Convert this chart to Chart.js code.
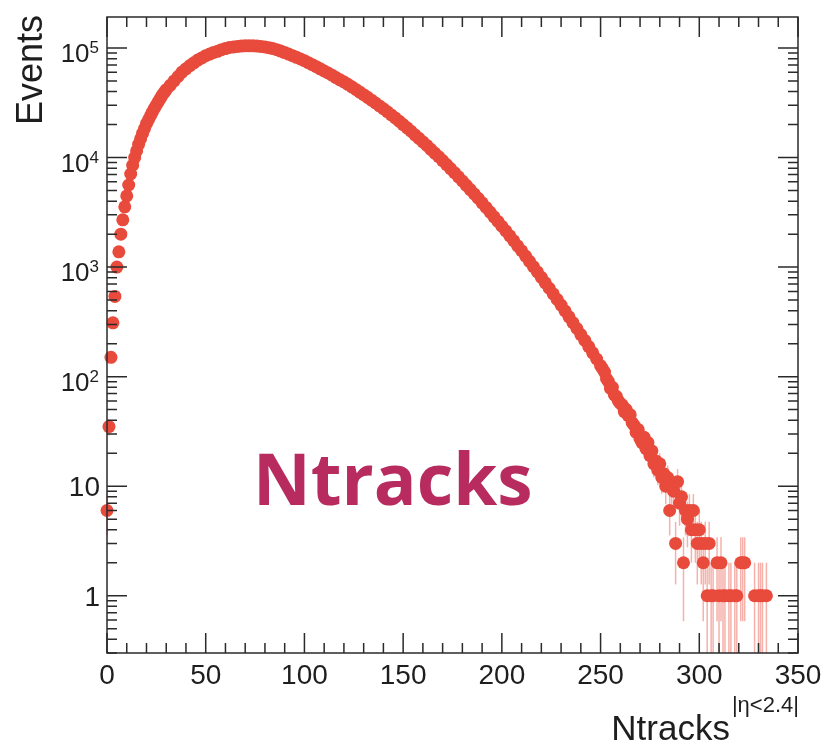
<!DOCTYPE html>
<html>
<head>
<meta charset="utf-8">
<script src="https://cdn.jsdelivr.net/npm/chart.js@4.4.0/dist/chart.umd.min.js"></script>
<style>
    html, body { margin: 0; padding: 0; background: #fff; }
    #wrap { width: 823px; height: 748px; position: relative; }
</style>
</head>
<body>
<div id="wrap"><canvas id="myChart"></canvas></div>
<script>
// Ntracks bin centres and event counts
let ntracks = [
    0, 1, 2, 3, 4, 5, 6, 7, 8, 9, 10, 11, 12, 13, 14, 15, 16, 17, 18, 19, 20,
    21, 22, 23, 24, 25, 26, 27, 28, 29, 30, 32, 34, 36, 38, 40, 42, 44, 46, 48, 50,
    52, 54, 56, 58, 60, 62, 64, 66, 68, 70, 72, 74, 76, 78, 80, 82, 84, 86, 88, 90,
    92, 94, 96, 98, 100, 102, 104, 106, 108, 110, 112, 114, 116, 118, 120, 122, 124, 126, 128, 130,
    132, 134, 136, 138, 140, 142, 144, 146, 148, 150, 152, 154, 156, 158, 160, 162, 164, 166, 168, 170,
    172, 174, 176, 178, 180, 182, 184, 186, 188, 190, 192, 194, 196, 198, 200, 202, 204, 206, 208, 210,
    212, 214, 216, 218, 220, 222, 224, 226, 228, 230, 232, 234, 236, 238, 240, 242, 244, 246, 248, 250,
    251, 252, 253, 254, 255, 256, 257, 258, 259, 260, 261, 262, 263, 264, 265, 266, 267, 268, 269, 270,
    271, 272, 273, 274, 275, 276, 277, 278, 279, 280, 281, 282, 283, 284, 285, 286, 287, 288, 289, 290,
    291, 292, 293, 294, 295, 296, 297, 298, 299, 300, 301, 302, 303, 304, 305, 306, 307, 309, 310, 311,
    312, 313, 315, 316, 318, 319, 321, 322, 323, 328, 330, 331, 332, 334
];
let events = [
    6, 35, 150, 310, 540, 1000, 1380, 2000, 2700, 3550, 4470, 5620, 7080, 8510, 10000, 11500, 13200, 14800, 16600, 18400, 20400,
    22100, 24000, 26000, 28200, 30200, 32400, 34700, 37200, 39400, 41700, 45700, 50100, 55000, 60300, 64600, 69200, 73300, 77600, 81300, 85100,
    88100, 91200, 93300, 96600, 98900, 101200, 102300, 103500, 104200, 104700, 104700, 104700, 104200, 103500, 102300, 100700, 98900, 96600, 93800, 90800,
    88100, 85100, 82200, 79400, 76700, 73500, 70500, 67600, 64600, 61700, 59200, 56500, 53700, 51300, 49000, 46600, 44200, 41900, 39600, 37500,
    35500, 33400, 31500, 29600, 27900, 26200, 24500, 23000, 21500, 20000, 18700, 17400, 16100, 15000, 13900, 12900, 11900, 11000, 10200, 9380,
    8630, 7940, 7280, 6670, 6110, 5580, 5100, 4660, 4250, 3860, 3510, 3180, 2880, 2610, 2360, 2140, 1930, 1740, 1560, 1410,
    1260, 1130, 1010, 904, 807, 719, 641, 570, 507, 450, 398, 352, 311, 275, 242, 214, 188, 165, 145, 126,
    118, 110, 96, 90, 78, 80, 68, 66, 60, 57, 55, 48, 50, 44, 45, 38, 36, 31, 33, 27,
    25, 28, 22, 25, 19, 21, 16, 17, 14, 16, 12, 13, 10, 12, 6, 10, 9, 3, 11, 7,
    8, 2, 6, 5, 6, 4, 6, 4, 3, 4, 3, 2, 3, 1, 3, 1, 1, 2, 1, 2,
    1, 1, 1, 1, 1, 1, 2, 2, 2, 1, 1, 1, 1, 1
];
let xTicks = [0, 50, 100, 150, 200, 250, 300, 350];
let yDecades = [0, 1, 2, 3, 4, 5];
let xTitle = 'Ntracks';
let xTitleSup = '|η<2.4|';
let yTitle = 'Events';
let stamp = 'Ntracks';

const FONT = '"Liberation Sans", Arial, Helvetica, sans-serif';
const INK = '#1e1e1e';

// sqrt(N) error bars, drawn under the markers
const errorBars = {
    id: 'errorBars',
    beforeDatasetsDraw(chart) {
        const ctx = chart.ctx;
        const xs = chart.scales.x, ys = chart.scales.y;
        const area = chart.chartArea;
        ctx.save();
        ctx.strokeStyle = 'rgba(232, 82, 66, 0.45)';
        ctx.lineWidth = 1.5;
        for (let i = 0; i < events.length; i++) {
            let n = events[i];
            let err = Math.sqrt(n);
            let px = xs.getPixelForValue(ntracks[i]);
            let top = ys.getPixelForValue(n + err);
            let lo = n - err;
            let bot = lo > ys.min ? ys.getPixelForValue(lo) : area.bottom;
            ctx.beginPath();
            ctx.moveTo(px, top);
            ctx.lineTo(px, bot);
            ctx.stroke();
        }
        ctx.restore();
    }
};

// ROOT style frame: box, inward ticks, labels, titles
const frame = {
    id: 'frame',
    afterDraw(chart) {
        const ctx = chart.ctx;
        const xs = chart.scales.x, ys = chart.scales.y;
        const a = chart.chartArea;
        ctx.save();
        ctx.strokeStyle = '#2a2a2a';
        ctx.lineWidth = 1.5;
        ctx.strokeRect(a.left, a.top, a.right - a.left, a.bottom - a.top);

        ctx.beginPath();
        // x ticks, bottom and top
        for (let v = 0; v <= 350; v += 10) {
            let px = xs.getPixelForValue(v);
            let len = (v % 50 === 0) ? 20 : 10;
            ctx.moveTo(px, a.bottom); ctx.lineTo(px, a.bottom - len);
            ctx.moveTo(px, a.top); ctx.lineTo(px, a.top + len);
        }
        // y ticks, left and right
        for (let d = -1; d <= 5; d++) {
            for (let m = 1; m <= 9; m++) {
                let v = m * Math.pow(10, d);
                if (v < ys.min || v > ys.max) continue;
                let py = ys.getPixelForValue(v);
                let len = m === 1 ? 20 : 10;
                ctx.moveTo(a.left, py); ctx.lineTo(a.left + len, py);
                ctx.moveTo(a.right, py); ctx.lineTo(a.right - len, py);
            }
        }
        ctx.stroke();

        ctx.fillStyle = INK;
        // x tick labels
        ctx.font = '28px ' + FONT;
        ctx.textAlign = 'center';
        ctx.textBaseline = 'alphabetic';
        xTicks.forEach(v => {
            ctx.fillText(String(v), xs.getPixelForValue(v), a.bottom + 31);
        });
        // y tick labels
        yDecades.forEach(e => {
            let py = ys.getPixelForValue(Math.pow(10, e));
            if (e < 2) {
                ctx.font = '28px ' + FONT;
                ctx.textAlign = 'right';
                ctx.fillText(e === 0 ? '1' : '10', 100, py + 10);
            } else {
                ctx.font = '17px ' + FONT;
                ctx.textAlign = 'right';
                ctx.fillText(String(e), 99, py + 5);
                let sw = ctx.measureText(String(e)).width;
                ctx.font = '26px ' + FONT;
                ctx.fillText('10', 99 - sw, py + 14);
            }
        });
        // y title
        ctx.save();
        ctx.translate(42, 15);
        ctx.rotate(-Math.PI / 2);
        ctx.font = '36px ' + FONT;
        ctx.textAlign = 'right';
        ctx.fillText(yTitle, 0, 0);
        ctx.restore();
        // x title with superscript
        ctx.textAlign = 'right';
        ctx.font = '22px ' + FONT;
        ctx.fillText(xTitleSup, 799, 712);
        let supW = ctx.measureText(xTitleSup).width;
        ctx.font = '35px ' + FONT;
        ctx.fillText(xTitle, 799 - supW - 2, 740);

        // big stamp
        ctx.fillStyle = '#b72b5f';
        ctx.font = 'bold 71px "Open Sans", sans-serif';
        ctx.textAlign = 'left';
        ctx.fillText(stamp, 253, 505);
        ctx.restore();
    }
};

let points = ntracks.map((x, i) => ({ x: x, y: events[i] }));

new Chart(document.getElementById('myChart'), {
    type: 'scatter',
    data: {
        datasets: [{
            label: 'Events',
            data: points,
            backgroundColor: '#e84a3c',
            borderWidth: 0,
            pointRadius: 6.5,
            pointHoverRadius: 6.5,
            clip: false
        }]
    },
    options: {
        responsive: true,
        maintainAspectRatio: false,
        animation: false,
        events: [],
        layout: { padding: { left: 107, top: 17, right: 25, bottom: 95 } },
        scales: {
            x: { type: 'linear', min: 0, max: 350, display: false },
            y: { type: 'logarithmic', min: 0.3, max: 192000, display: false }
        },
        plugins: {
            legend: { display: false },
            tooltip: { enabled: false }
        }
    },
    plugins: [errorBars, frame]
});
</script>
</body>
</html>
